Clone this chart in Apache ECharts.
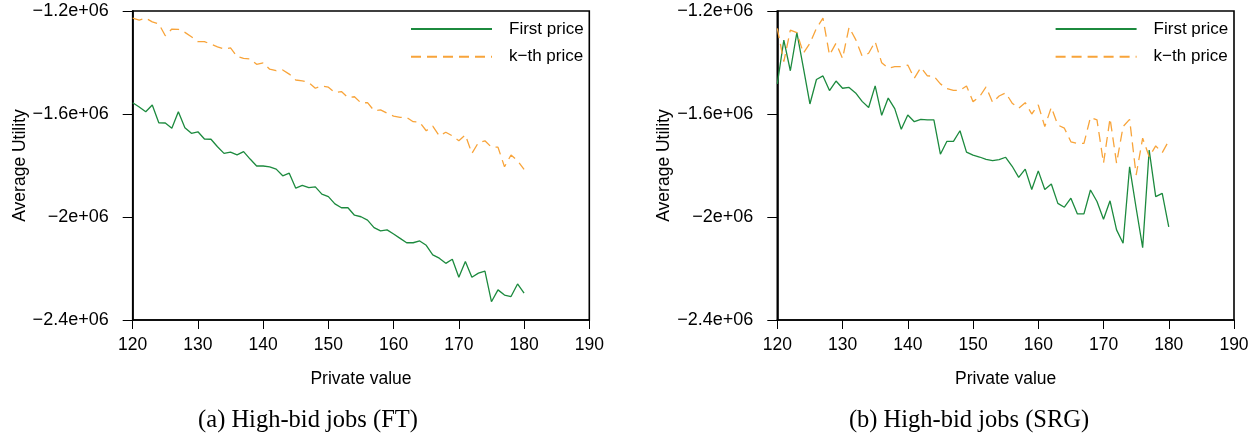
<!DOCTYPE html>
<html>
<head>
<meta charset="utf-8">
<script src="https://cdn.jsdelivr.net/npm/echarts@6/dist/echarts.min.js"></script>
<style>
html,body{margin:0;padding:0;background:#fff;}
#chart{width:1260px;height:436px;}
</style>
</head>
<body>
<div id="chart"></div>
<script>
// Private values (x)
var privateValues = [120,121,122,123,124,125,126,127,128,129,130,131,132,133,134,135,136,137,138,139,140,
  141,142,143,144,145,146,147,148,149,150,151,152,153,154,155,156,157,158,159,160,
  161,162,163,164,165,166,167,168,169,170,171,172,173,174,175,176,177,178,179,180];

// (a) High-bid jobs (FT), values in thousands
var ftFirst = [-1556,-1573,-1591,-1565,-1634,-1635,-1655,-1591,-1653,-1675,-1669,
  -1697,-1698,-1727,-1753,-1748,-1759,-1746,-1775,-1802,-1802,
  -1805,-1814,-1840,-1830,-1888,-1877,-1886,-1883,-1911,-1921,
  -1949,-1964,-1964,-1993,-1999,-2012,-2041,-2054,-2050,-2066,
  -2083,-2100,-2100,-2093,-2110,-2147,-2160,-2180,-2164,-2234,
  -2173,-2234,-2218,-2210,-2329,-2283,-2303,-2309,-2260,-2296];
var ftKth = [-1228,-1235,-1228,-1242,-1250,-1296,-1270,-1271,-1283,-1300,-1319,
  -1319,-1329,-1339,-1348,-1343,-1377,-1384,-1386,-1407,-1401,
  -1426,-1432,-1429,-1445,-1468,-1471,-1478,-1500,-1491,-1496,
  -1517,-1513,-1536,-1533,-1557,-1556,-1587,-1584,-1597,-1608,
  -1613,-1613,-1630,-1632,-1665,-1647,-1685,-1671,-1685,-1704,
  -1681,-1753,-1711,-1704,-1729,-1729,-1805,-1759,-1782,-1815];

// (b) High-bid jobs (SRG), values in thousands
var srgFirst = [-1483,-1313,-1432,-1284,-1421,-1561,-1466,-1452,-1509,-1472,-1500,
  -1497,-1518,-1551,-1575,-1491,-1605,-1538,-1579,-1659,-1604,
  -1630,-1621,-1623,-1623,-1756,-1706,-1706,-1665,-1748,-1760,
  -1767,-1776,-1781,-1777,-1768,-1803,-1846,-1814,-1893,-1821,
  -1893,-1872,-1947,-1962,-1927,-1988,-1988,-1895,-1940,-2009,
  -1937,-2050,-2102,-1805,-1965,-2119,-1740,-1921,-1908,-2038];
var srgKth = [-1267,-1397,-1274,-1284,-1364,-1325,-1267,-1228,-1371,-1325,-1384,
  -1263,-1310,-1375,-1364,-1319,-1401,-1422,-1416,-1416,-1410,
  -1461,-1419,-1452,-1453,-1483,-1501,-1508,-1508,-1491,-1552,
  -1533,-1495,-1555,-1530,-1518,-1558,-1578,-1556,-1600,-1565,
  -1649,-1574,-1643,-1655,-1708,-1714,-1714,-1613,-1623,-1791,
  -1617,-1791,-1649,-1621,-1837,-1694,-1766,-1724,-1750,-1704];

var xTicks = [120,130,140,150,160,170,180,190];
var yTicks = [-2400000,-2000000,-1600000,-1200000];
var seriesNames = ['First price', 'k\u2212th price'];
var captions = ['(a) High-bid jobs (FT)', '(b) High-bid jobs (SRG)'];
var xName = 'Private value';
var yName = 'Average Utility';

function pairs(vals){
  return privateValues.map(function(x,i){ return [x, vals[i]*1000]; });
}
function yFmt(v){
  var m = Math.abs(v)/1e6;
  return (v<0?'\u2212':'') + (+m.toFixed(2)) + 'e+06';
}

var SANS = 'Liberation Sans, Arial, Helvetica, sans-serif';
var SERIF = 'Liberation Serif, Times New Roman, serif';
var GREEN = '#1c8a3e';
var ORANGE = '#f8a43a';
var FS = 17.5;

var grids = [
  {left:132.7, top:11, width:456.6, height:309},
  {left:777.3, top:11, width:456.7, height:309}
];

function xAxis(i){
  return {
    type:'value', gridIndex:i, min:xTicks[0], max:xTicks[xTicks.length-1], interval:10,
    name:xName, nameLocation:'middle', nameGap:50,
    nameTextStyle:{color:'#000', fontFamily:SANS, fontSize:FS},
    axisLine:{show:true, onZero:false, lineStyle:{color:'#000', width:1.6}},
    axisTick:{show:true, length:9, lineStyle:{color:'#000', width:1}},
    axisLabel:{color:'#000', fontFamily:SANS, fontSize:FS, margin:16},
    splitLine:{show:false}
  };
}
function yAxis(i){
  return {
    type:'value', gridIndex:i, min:yTicks[0], max:yTicks[yTicks.length-1], interval:400000,
    name:yName, nameLocation:'middle', nameGap:101, nameRotate:90,
    nameTextStyle:{color:'#000', fontFamily:SANS, fontSize:FS},
    axisLine:{show:true, onZero:false, lineStyle:{color:'#000', width:1.6}},
    axisTick:{show:true, length:10, lineStyle:{color:'#000', width:1}},
    axisLabel:{color:'#000', fontFamily:SANS, fontSize:18, margin:24, formatter:yFmt},
    splitLine:{show:false}
  };
}
function legend(left){
  return {
    orient:'vertical', left:left, top:14, itemWidth:81, itemHeight:14, itemGap:7.7,
    data:seriesNames,
    itemStyle:{opacity:0},
    textStyle:{color:'#000', fontFamily:SANS, fontSize:17, lineHeight:20, padding:[0,0,0,12]},
    selectedMode:false
  };
}
function line(name, i, vals, color, dashed){
  return {
    name:name, type:'line', xAxisIndex:i, yAxisIndex:i, data:pairs(vals),
    symbol:'none', showSymbol:false, animation:false,
    lineStyle:{color:color, width:1.3, type: dashed ? [10,6] : 'solid'},
    itemStyle:{color:color}
  };
}

var chart = echarts.init(document.getElementById('chart'), null, {renderer:'canvas'});
chart.setOption({
  animation:false,
  backgroundColor:'#fff',
  grid: grids.map(function(g){ return Object.assign({show:true, borderColor:'#000', borderWidth:1.6, backgroundColor:'transparent'}, g); }),
  title: [
    {text:captions[0], left:303, top:403, textAlign:'center', textStyle:{fontFamily:SERIF, fontWeight:'normal', fontSize:24.5, color:'#000'}},
    {text:captions[1], left:964, top:403, textAlign:'center', textStyle:{fontFamily:SERIF, fontWeight:'normal', fontSize:24.5, color:'#000'}}
  ],
  legend:[legend(405), legend(1049.6)],
  xAxis:[xAxis(0), xAxis(1)],
  yAxis:[yAxis(0), yAxis(1)],
  series:[
    line(seriesNames[0], 0, ftFirst, GREEN, false),
    line(seriesNames[1], 0, ftKth, ORANGE, true),
    line(seriesNames[0], 1, srgFirst, GREEN, false),
    line(seriesNames[1], 1, srgKth, ORANGE, true)
  ]
});
</script>
</body>
</html>
